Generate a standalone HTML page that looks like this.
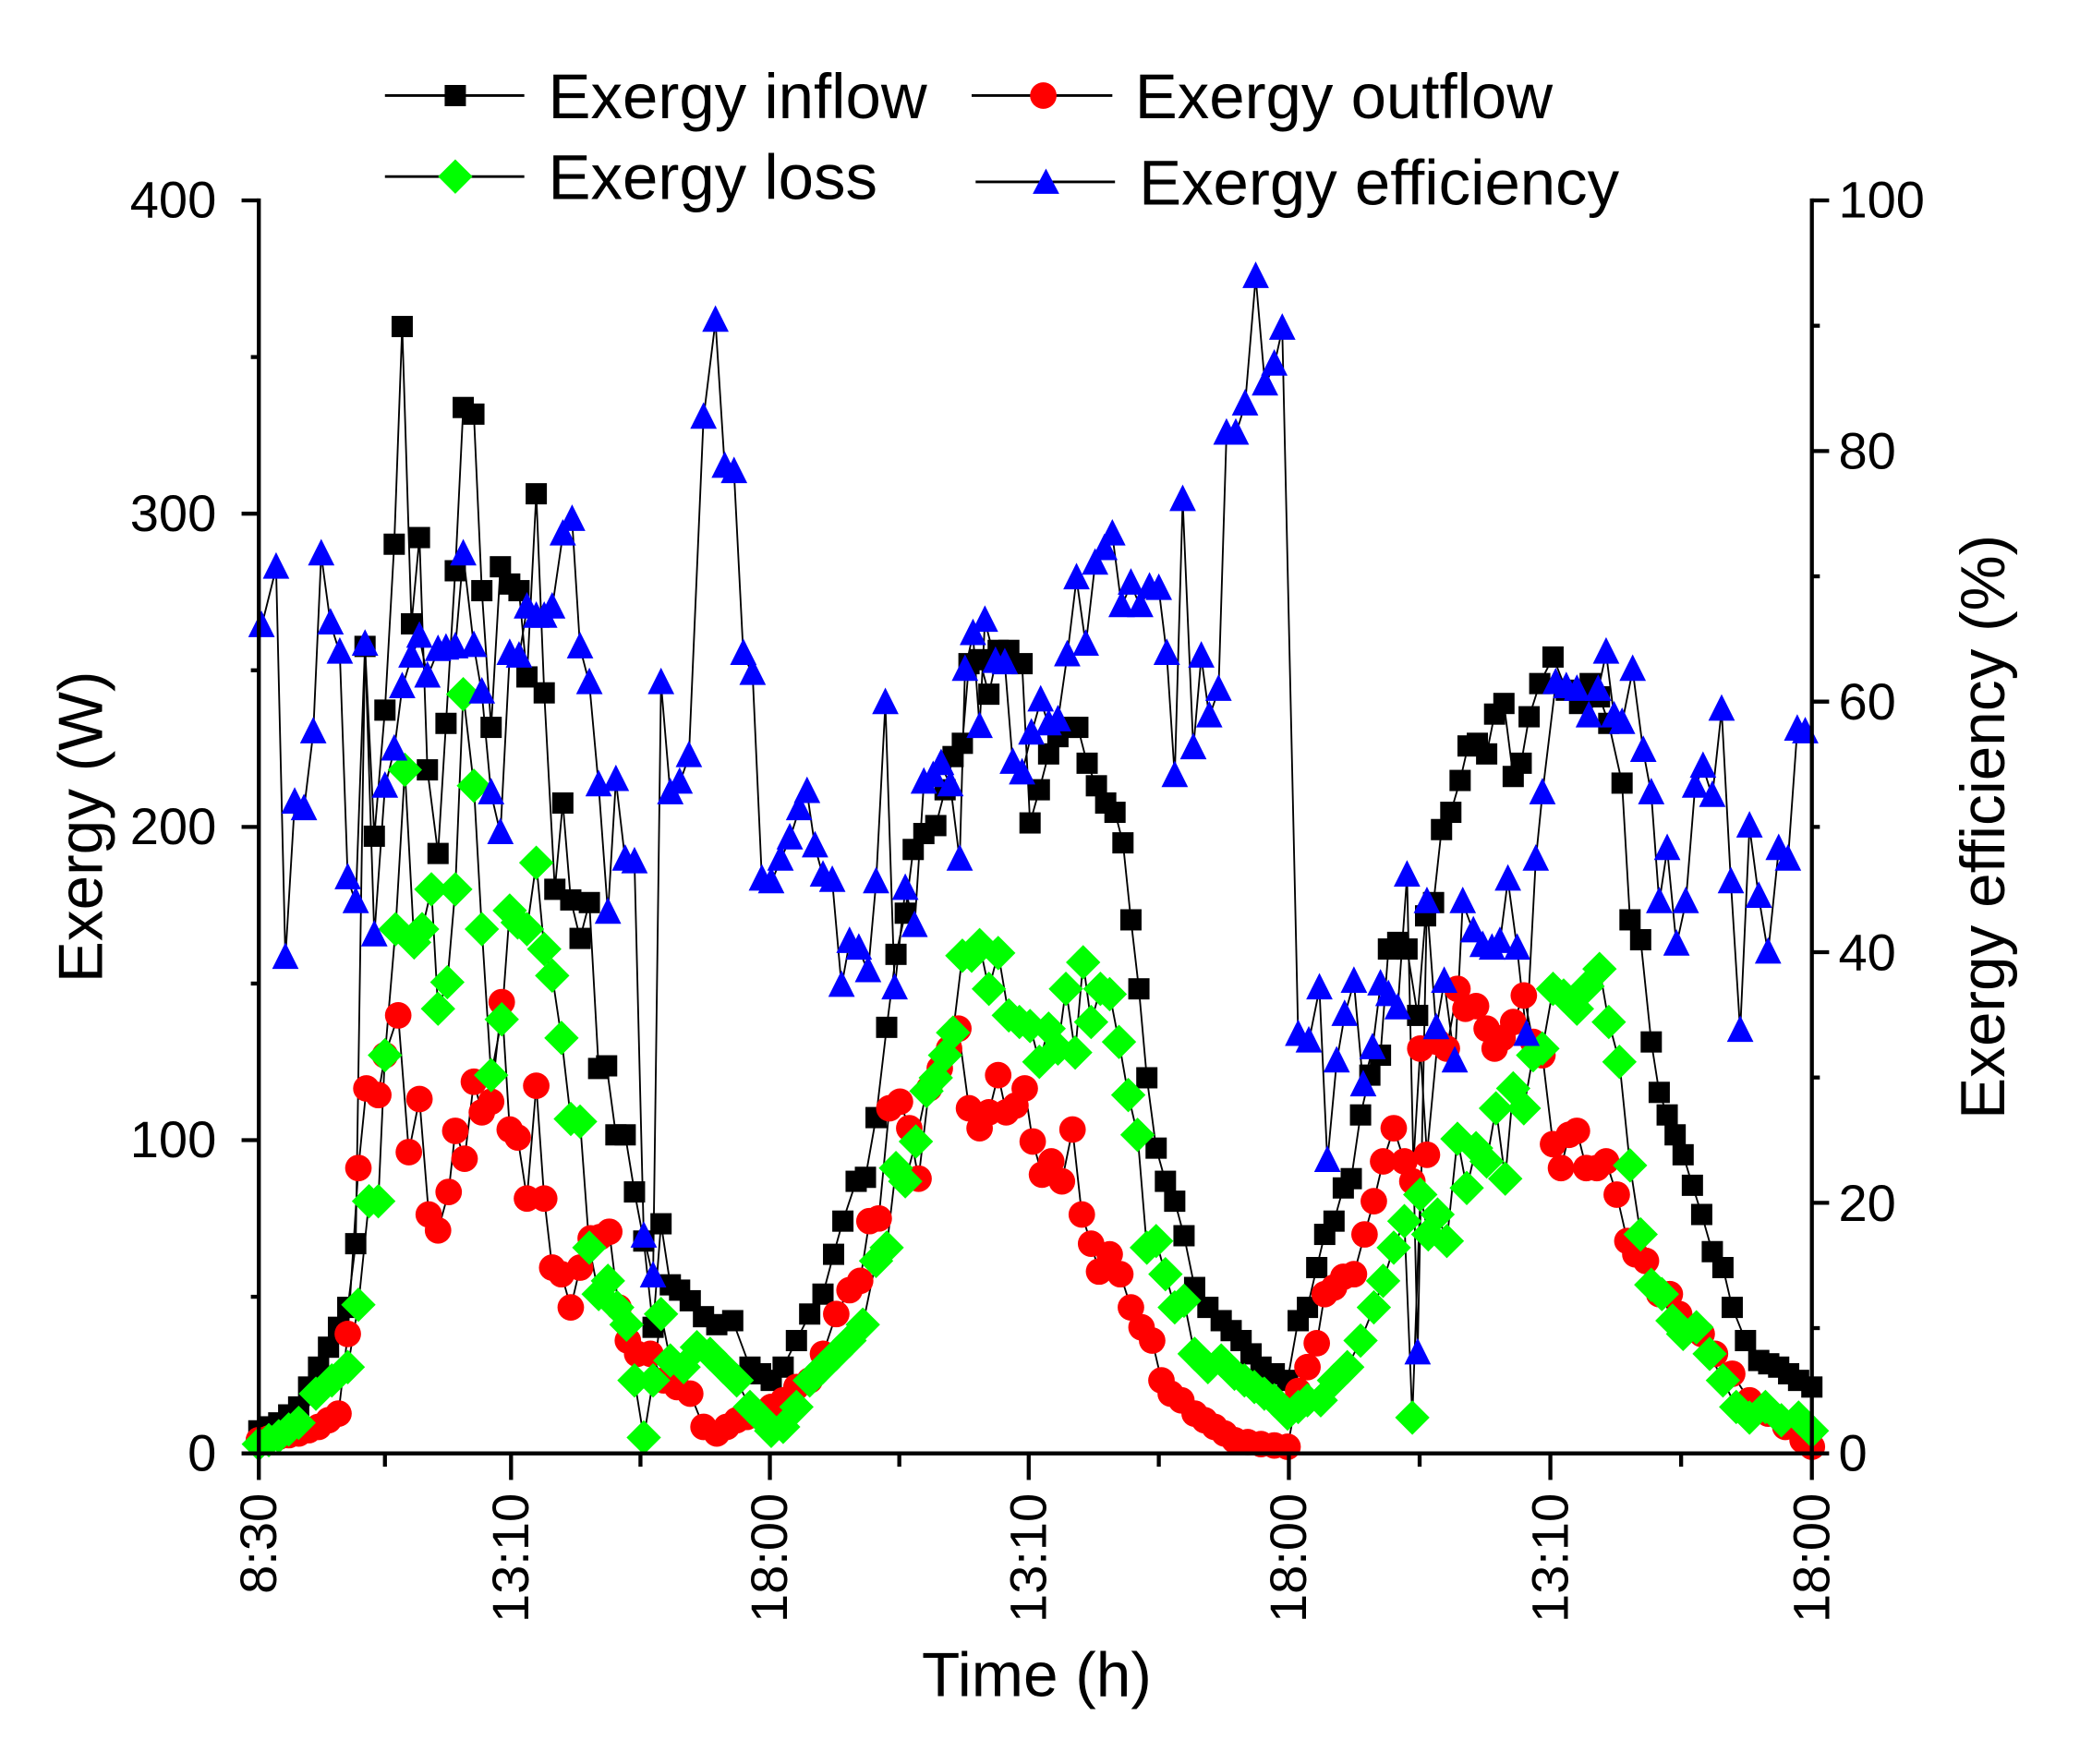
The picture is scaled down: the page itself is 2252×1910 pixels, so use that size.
<!DOCTYPE html>
<html><head><meta charset="utf-8"><style>html,body{margin:0;padding:0;background:#fff}svg{display:block}text{font-family:"Liberation Sans",Arial,sans-serif;fill:#000}</style></head>
<body>
<svg id="s" width="2252" height="1910" viewBox="0 0 1567 1329" xmlns="http://www.w3.org/2000/svg">
<rect width="1567" height="1329" fill="#fff"/>
<g id="series"></g>
<g stroke="#000" stroke-width="3" fill="none" stroke-linecap="square">
<path d="M195 151V1095H1365V151"/>
</g>
<g id="ticks" stroke="#000" stroke-width="3"></g>
<g font-size="39">
<text x="163" y="164" text-anchor="end">400</text>
<text x="163" y="400" text-anchor="end">300</text>
<text x="163" y="636" text-anchor="end">200</text>
<text x="163" y="872" text-anchor="end">100</text>
<text x="163" y="1108" text-anchor="end">0</text>
<text x="1385" y="164">100</text>
<text x="1385" y="353">80</text>
<text x="1385" y="542">60</text>
<text x="1385" y="731">40</text>
<text x="1385" y="920">20</text>
<text x="1385" y="1108">0</text>
</g>
<g id="xl" font-size="39"></g>
<text x="781" y="1278" font-size="47" text-anchor="middle">Time (h)</text>
<text transform="translate(77,623) rotate(-90)" font-size="47" text-anchor="middle">Exergy (W)</text>
<text transform="translate(1510,623) rotate(-90)" font-size="47" text-anchor="middle">Exergy efficiency (%)</text>
<g stroke="#000" stroke-width="2">
<line x1="290" y1="72" x2="395" y2="72"/><line x1="732" y1="72" x2="838" y2="72"/>
<line x1="290" y1="133" x2="395" y2="133"/><line x1="735" y1="137" x2="840" y2="137"/>
</g>
<rect x="335" y="64" width="16" height="16" fill="#000"/>
<circle cx="786" cy="72" r="10" fill="#f00"/>
<polygon points="343,120 356,133 343,146 330,133" fill="#0f0"/>
<polygon points="788,127 798,146 778,146" fill="#00f"/>
<g font-size="48">
<text x="413" y="89">Exergy inflow</text>
<text x="855" y="89">Exergy outflow</text>
<text x="413" y="150">Exergy loss</text>
<text x="858" y="154">Exergy efficiency</text>
</g>
</svg>
<script>
var NS="http://www.w3.org/2000/svg";
function P(s){return s.trim().split(/\)\s*,\s*\(/).map(function(t){t=t.replace(/[()]/g,'');var a=t.split(',');return[+a[0],+a[1]];});}
var blk=P("(195,1078),(210,1072),(225,1060),(240,1030),(255,1000),(262,985),(268,937),(275,487),(282,630),(290,535),(297,410),(303,246),(310,470),(316,405),(322,580),(330,643),(336,545),(343,430),(349,307),(357,312),(363,445),(370,548),(377,427),(384,440),(391,445),(397,510),(404,372),(410,522),(418,670),(424,605),(430,678),(437,707),(444,680),(451,805),(457,803),(464,855),(471,855),(478,898),(485,935),(492,1000),(498,922),(505,968),(512,972),(520,980),(530,992),(540,998),(552,995),(565,1030),(581,1040),(590,1030),(600,1010),(610,990),(620,975),(628,945),(635,920),(645,890),(652,887),(660,842),(668,774),(675,719),(682,688),(688,640),(696,628),(705,622),(712,595),(718,570),(725,560),(730,500),(738,497),(745,523),(752,490),(760,490),(770,500),(776,620),(783,595),(790,568),(797,555),(805,548),(812,548),(819,575),(826,592),(833,605),(840,612),(846,635),(852,693),(858,745),(864,812),(871,865),(878,890),(885,905),(892,931),(900,970),(910,985),(920,995),(935,1010),(950,1030),(970,1040),(978,995),(985,985),(992,955),(998,930),(1005,920),(1012,895),(1018,888),(1025,840),(1032,810),(1040,795),(1046,715),(1053,710),(1060,715),(1068,765),(1074,690),(1080,680),(1086,625),(1093,612),(1100,588),(1106,562),(1113,560),(1120,568),(1126,538),(1133,530),(1140,585),(1146,575),(1152,540),(1160,515),(1170,495),(1180,520),(1190,530),(1198,515),(1205,525),(1212,545),(1222,590),(1228,693),(1236,708),(1244,785),(1250,823),(1256,840),(1262,855),(1268,870),(1275,893),(1282,915),(1290,943),(1298,955),(1305,985),(1315,1010),(1325,1025),(1340,1030),(1355,1040),(1365,1045)");
var red=P("(195,1085),(225,1080),(240,1075),(255,1065),(262,1005),(270,880),(276,820),(285,825),(290,795),(300,765),(308,868),(316,828),(323,915),(330,927),(338,898),(343,852),(350,873),(357,815),(363,838),(370,830),(378,755),(384,851),(390,857),(397,903),(404,818),(410,903),(416,955),(423,960),(430,985),(437,955),(445,933),(452,932),(459,928),(466,985),(473,1010),(480,1020),(490,1020),(500,1040),(510,1045),(520,1050),(530,1075),(540,1080),(555,1070),(570,1065),(581,1060),(590,1055),(600,1045),(610,1040),(620,1020),(630,990),(640,972),(648,965),(655,920),(662,918),(670,835),(678,830),(685,850),(692,888),(700,820),(708,805),(715,790),(722,775),(730,835),(738,850),(745,838),(752,810),(758,838),(765,833),(772,820),(778,860),(785,885),(792,875),(800,890),(808,851),(815,915),(822,937),(828,958),(836,945),(844,960),(852,985),(860,1000),(868,1010),(875,1040),(882,1050),(890,1055),(900,1065),(915,1075),(930,1085),(950,1088),(970,1090),(978,1048),(985,1030),(992,1012),(998,975),(1005,970),(1012,962),(1020,960),(1028,930),(1035,905),(1042,875),(1050,850),(1058,875),(1064,890),(1070,790),(1075,870),(1083,785),(1090,790),(1098,745),(1104,760),(1112,758),(1120,775),(1126,790),(1132,782),(1140,770),(1148,750),(1155,785),(1162,795),(1170,862),(1176,880),(1182,855),(1188,852),(1195,880),(1203,880),(1210,875),(1218,900),(1226,935),(1232,945),(1240,950),(1250,975),(1258,975),(1265,990),(1274,1000),(1282,1005),(1292,1020),(1305,1035),(1318,1055),(1332,1065),(1345,1075),(1358,1085),(1365,1090)");
var grn=P("(195,1088),(210,1082),(225,1072),(238,1050),(250,1040),(262,1030),(270,983),(278,905),(285,905),(290,795),(298,700),(305,580),(312,710),(318,700),(325,670),(330,760),(337,740),(343,670),(349,523),(357,592),(363,700),(370,810),(378,768),(384,686),(390,695),(397,700),(404,650),(410,715),(416,735),(423,782),(430,843),(437,845),(444,940),(451,975),(458,965),(465,985),(472,998),(478,1040),(485,1083),(492,1040),(498,990),(505,1025),(515,1030),(525,1015),(535,1020),(545,1030),(555,1040),(565,1060),(575,1070),(581,1078),(590,1075),(600,1060),(610,1040),(620,1030),(630,1020),(640,1010),(650,998),(660,950),(668,940),(675,880),(682,890),(690,860),(698,822),(705,812),(712,795),(718,778),(725,720),(732,720),(738,712),(745,745),(752,718),(760,765),(768,770),(776,773),(783,800),(790,775),(797,790),(803,745),(810,793),(816,725),(822,770),(829,745),(836,749),(843,785),(850,825),(857,855),(864,940),(871,935),(878,960),(885,985),(892,980),(900,1020),(910,1030),(920,1025),(930,1035),(945,1045),(960,1055),(970,1065),(978,1060),(985,1055),(995,1055),(1005,1040),(1015,1030),(1025,1010),(1035,985),(1042,965),(1050,940),(1058,920),(1064,1068),(1070,900),(1076,930),(1083,915),(1090,935),(1098,858),(1105,895),(1112,865),(1120,875),(1127,835),(1134,888),(1140,820),(1148,835),(1155,795),(1162,790),(1170,745),(1178,750),(1188,760),(1196,743),(1205,730),(1212,770),(1220,800),(1228,878),(1236,930),(1244,968),(1252,975),(1260,995),(1268,1005),(1278,1000),(1288,1020),(1298,1040),(1308,1060),(1318,1068),(1330,1060),(1342,1070),(1355,1068),(1365,1078)");
var blu=P("(197,472),(208,428),(215,722),(222,605),(229,610),(236,552),(242,418),(249,470),(256,492),(262,662),(268,680),(275,486),(282,705),(290,593),(297,565),(303,518),(310,495),(316,480),(322,510),(330,490),(336,489),(343,488),(349,418),(357,487),(363,522),(370,598),(377,628),(384,493),(391,495),(397,458),(404,465),(410,465),(416,458),(424,403),(431,392),(437,488),(444,515),(451,592),(458,688),(464,588),(471,648),(478,650),(485,932),(492,962),(498,515),(505,598),(512,590),(519,570),(530,315),(539,242),(546,352),(553,356),(560,493),(567,508),(574,663),(581,665),(588,648),(595,632),(602,610),(608,597),(614,638),(620,660),(627,664),(634,743),(640,710),(647,715),(654,732),(660,665),(667,530),(674,745),(682,670),(689,698),(696,590),(703,585),(709,576),(716,592),(723,648),(727,505),(733,478),(738,548),(742,468),(750,499),(757,500),(763,575),(770,583),(777,553),(784,528),(790,546),(797,543),(804,494),(811,436),(818,486),(825,425),(832,414),(838,403),(845,457),(852,440),(859,457),(866,443),(873,444),(879,493),(885,585),(891,377),(899,564),(905,495),(911,540),(918,520),(924,327),(931,327),(938,305),(946,209),(953,290),(960,275),(966,248),(978,780),(986,785),(994,745),(1000,875),(1007,800),(1013,765),(1020,740),(1027,818),(1034,790),(1040,742),(1046,750),(1053,760),(1060,660),(1068,1020),(1075,680),(1082,775),(1088,740),(1096,800),(1102,680),(1110,702),(1117,713),(1124,715),(1130,710),(1136,663),(1143,715),(1150,780),(1157,648),(1162,598),(1172,515),(1180,518),(1188,520),(1197,540),(1204,520),(1210,492),(1216,540),(1222,545),(1230,505),(1238,566),(1244,598),(1250,680),(1256,640),(1263,712),(1270,680),(1277,593),(1283,578),(1290,600),(1297,535),(1304,665),(1311,777),(1318,623),(1325,676),(1332,718),(1340,640),(1347,648),(1354,550),(1360,552)");
var g=document.getElementById('series');
function el(n,a){var e=document.createElementNS(NS,n);for(var k in a)e.setAttribute(k,a[k]);g.appendChild(e);return e;}
function line(p){el('polyline',{points:p.map(function(q){return q.join(',')}).join(' '),fill:'none',stroke:'#000','stroke-width':1.3});}
function dens(p){var o=[];for(var i=0;i<p.length;i++){o.push(p[i]);if(i<p.length-1){var dx=p[i+1][0]-p[i][0];if(dx>10){var n=Math.floor(dx/7);for(var j=1;j<n;j++)o.push([p[i][0]+dx*j/n,p[i][1]+(p[i+1][1]-p[i][1])*j/n]);}}}return o;}
[blk,red,grn,blu].forEach(line);
dens(blk).forEach(function(q){el('rect',{x:q[0]-8,y:q[1]-8,width:16,height:16,fill:'#000'});});
dens(red).forEach(function(q){el('circle',{cx:q[0],cy:q[1],r:10,fill:'#f00'});});
dens(grn).forEach(function(q){el('polygon',{points:[q[0],q[1]-13,q[0]+13,q[1],q[0],q[1]+13,q[0]-13,q[1]].join(','),fill:'#0f0'});});
blu.forEach(function(q){el('polygon',{points:[q[0],q[1]-12,q[0]+10,q[1]+8,q[0]-10,q[1]+8].join(','),fill:'#00f'});});
var t=document.getElementById('ticks');
function tl(a,b,c,d){var e=document.createElementNS(NS,'line');e.setAttribute('x1',a);e.setAttribute('y1',b);e.setAttribute('x2',c);e.setAttribute('y2',d);t.appendChild(e);}
for(var i=0;i<=8;i++){var y=1095-i*118;tl(195,y,i%2?189:182,y);}
for(var i=0;i<=10;i++){var y=1095-i*94.4;tl(1365,y,i%2?1371:1378,y);}
var xs=[195,385,580,775,971,1168,1365],lab=["8:30","13:10","18:00","13:10","18:00","13:10","18:00"];
var xl=document.getElementById('xl');
for(var i=0;i<xs.length;i++){tl(xs[i],1095,xs[i],1115);if(i<6){var m=(xs[i]+xs[i+1])/2;tl(m,1095,m,1105);}
var e=document.createElementNS(NS,'text');e.setAttribute('transform','translate('+(xs[i]+13)+',1125) rotate(-90)');e.setAttribute('text-anchor','end');e.textContent=lab[i];xl.appendChild(e);}
</script>
</body></html>
